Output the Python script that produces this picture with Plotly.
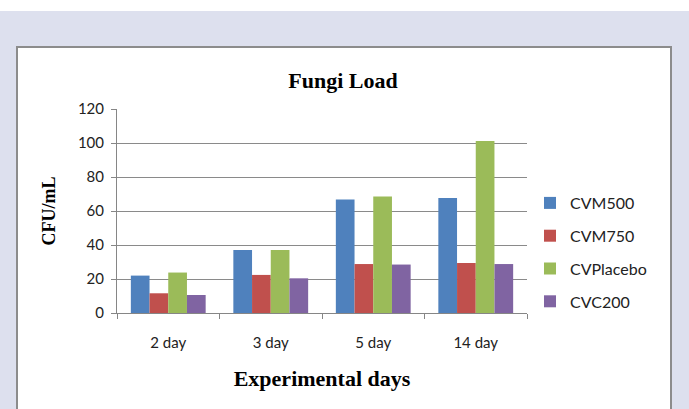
import plotly.graph_objects as go

days = ["2 day", "3 day", "5 day", "14 day"]
cvm500 = [22, 37, 66.7, 67.7]
cvm750 = [11.6, 22.4, 28.8, 29.4]
cvplacebo = [23.8, 37.1, 68.6, 101.2]
cvc200 = [10.6, 20.4, 28.5, 28.8]
series_names = ["CVM500", "CVM750", "CVPlacebo", "CVC200"]
colors = ["#4F81BD", "#C0504D", "#9BBB59", "#8064A2"]

fig = go.Figure()
for name, vals, col in zip(series_names, [cvm500, cvm750, cvplacebo, cvc200], colors):
    fig.add_trace(go.Bar(x=days, y=vals, name=name, legendgroup=name,
                         marker=dict(color=col, line=dict(width=0))))

W, H = 689, 409
L, R, T, B = 117, 162, 109, 96
pw, ph = W - L - R, H - T - B


def px(x):
    return (x - L) / pw


def py(y):
    return (H - B - y) / ph


shapes = [
    # white strip at the very top
    dict(type="rect", xref="paper", yref="paper", x0=px(-5), x1=px(700), y0=py(11), y1=py(-5),
         fillcolor="white", line=dict(width=0), layer="below"),
    # white chart box with grey border
    dict(type="rect", xref="paper", yref="paper", x0=px(17), x1=px(671), y0=py(430), y1=py(47),
         fillcolor="white", line=dict(color="#8C8C8C", width=2), layer="below"),
]

fig.update_layout(
    width=W, height=H,
    margin=dict(l=L, r=R, t=T, b=B),
    paper_bgcolor="#DDE0EE",
    plot_bgcolor="rgba(0,0,0,0)",
    barmode="group", bargap=0.27, bargroupgap=0,
    shapes=shapes,
    title=dict(text="<b>Fungi Load</b>", x=343 / W, xanchor="center",
               y=1 - 80 / H, yanchor="middle",
               font=dict(family="Liberation Serif", size=22, color="black")),
    font=dict(family="Lato", size=15, color="#222"),
    legend=dict(x=px(530), xanchor="left", y=py(186), yanchor="top",
                font=dict(family="Lato", size=16, color="#222"),
                tracegroupgap=9, itemsizing="constant", bgcolor="rgba(0,0,0,0)"),
    xaxis=dict(showline=True, linecolor="#868686", linewidth=1,
               ticks="outside", tickson="boundaries", ticklen=5, tickcolor="#868686",
               ticklabelstandoff=16,
               tickfont=dict(family="Lato", size=15, color="#222"),
               title=dict(text="<b>Experimental days</b>", standoff=20,
                          font=dict(family="Liberation Serif", size=22, color="black"))),
    yaxis=dict(range=[0, 120], dtick=20, showgrid=True, gridcolor="#8A8A8A", gridwidth=1,
               showline=True, linecolor="#868686", linewidth=1,
               ticks="outside", ticklen=5, tickcolor="#868686", zeroline=False,
               ticklabelstandoff=4,
               tickfont=dict(family="Lato", size=15, color="#222"),
               title=dict(text="<b>CFU/mL</b>", standoff=17,
                          font=dict(family="Liberation Serif", size=18, color="black"))),
)

fig.write_html("out.html", config={"displayModeBar": False},
               post_script="document.body.style.margin='0';")
